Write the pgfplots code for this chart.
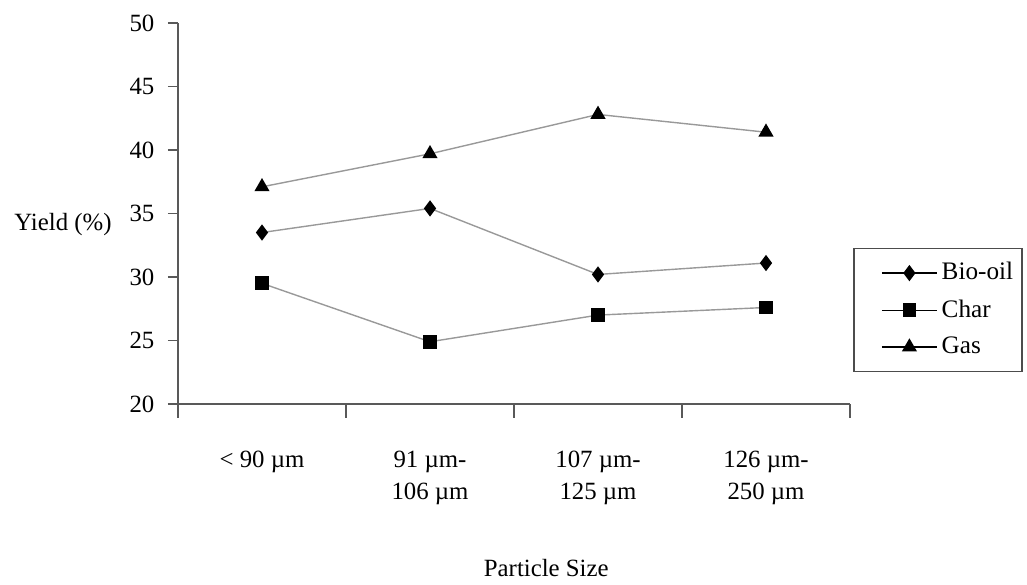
\documentclass[border=0pt]{standalone}
\usepackage{fontspec}
\setmainfont{Liberation Serif}
\usepackage{pgfplots}
\pgfplotsset{compat=1.18}
\begin{document}
\fontsize{12.4}{16}\selectfont
\begin{tikzpicture}
\begin{axis}[
  at={(0,0)}, anchor=south west,
  scale only axis, width=336pt, height=190.5pt,
  xmin=0, xmax=4, ymin=20, ymax=50,
  axis x line=bottom, axis y line=left,
  axis line style={-, draw=black!65, line width=0.8pt},
  clip=false,
  ytick={20,25,...,50},
  tick align=outside,
  major tick length=5pt,
  tick style={draw=black!65, line width=0.7pt},
  xtick={0.5,1.5,2.5,3.5},
  xticklabels={{\raisebox{-3pt}{< 90 µm}},{91 µm-\\106 µm},{107 µm-\\125 µm},{126 µm-\\250 µm}},
  x tick style={draw=none},
  minor xtick={0,1,2,3,4},
  minor x tick style={draw=black!65, line width=0.7pt},
  minor tick length=7pt,
  xticklabel style={align=center, anchor=north, yshift=-14pt, font=\fontsize{12.4}{16}\selectfont},
  yticklabel style={xshift=-2.5pt, font=\fontsize{12.4}{16}\selectfont},
  /pgf/number format/assume math mode=true,
  legend style={at={(rel axis cs:1.005,0.41)}, anchor=north west, draw=black!70, line width=0.7pt,
    font=\fontsize{12.6}{16}\selectfont, row sep=4pt, inner xsep=2.5pt, inner ysep=5pt},
  legend cell align=left,
  legend image code/.code={
    \path[draw=none, fill=none] (-0.4cm,0cm) -- (0cm,0cm);
    \draw[black, line width=0.7pt] (0cm,0cm) -- (0.97cm,0cm);
    \draw[#1, draw=none] plot coordinates {(0.485cm,0cm)};
  },
]
\addplot[draw=black!40, line width=0.7pt, mark=diamond*, mark size=3.5pt, mark options={draw=black, fill=black}]
  coordinates {(0.5,33.5) (1.5,35.4) (2.5,30.2) (3.5,31.1)};
\addlegendentry{Bio-oil}
\addplot[draw=black!40, line width=0.7pt, mark=square*, mark size=3.1pt, mark options={draw=black, fill=black}]
  coordinates {(0.5,29.5) (1.5,24.9) (2.5,27.0) (3.5,27.6)};
\addlegendentry{Char}
\addplot[draw=black!40, line width=0.7pt, mark=triangle*, mark size=3.7pt, mark options={draw=black, fill=black}]
  coordinates {(0.5,37.1) (1.5,39.7) (2.5,42.8) (3.5,41.4)};
\addlegendentry{Gas}
\node at (rel axis cs:0,0.472) [xshift=-57.5pt] {Yield (\%)};
\node at (rel axis cs:0.548,0) [yshift=-82pt] {Particle Size};
\end{axis}
\path[use as bounding box] (-89pt,-88.5pt) rectangle (424.5pt,202pt);
\end{tikzpicture}
\end{document}
